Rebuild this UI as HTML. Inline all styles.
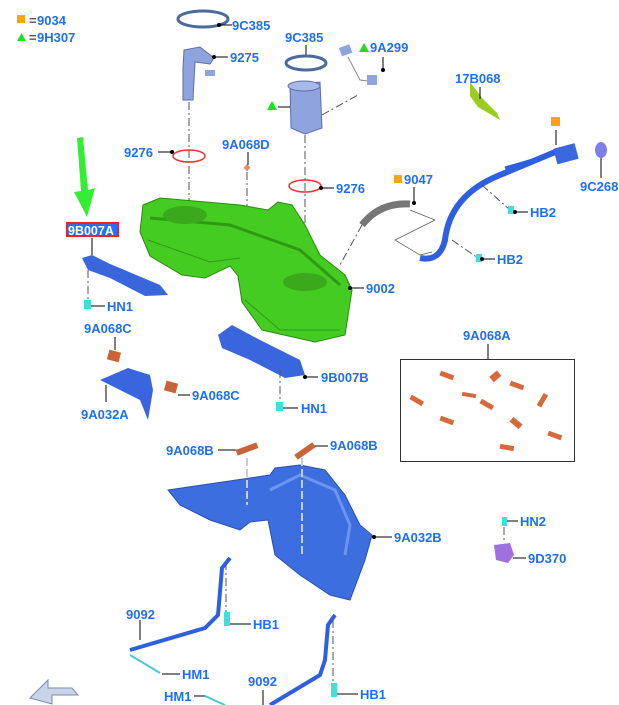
<!DOCTYPE html>
<html><head><meta charset="utf-8"><style>
html,body{margin:0;padding:0;background:#fff;width:619px;height:705px;overflow:hidden}
svg{display:block}
text{font-family:"Liberation Sans",sans-serif;font-weight:bold;font-size:13px;fill:#1f6ff0}
.l{stroke:#000;stroke-width:1;fill:none}
.d{stroke:#555;stroke-width:1;fill:none;stroke-dasharray:8 3 2 3}
</style></head><body>
<svg width="619" height="705" viewBox="0 0 619 705">
<!-- legend -->
<rect x="17" y="15" width="8" height="8" fill="#f6a800"/><text x="29" y="25" style="fill:#555">=</text><text x="37" y="25">9034</text>
<path d="M17 41 L21.5 33 L26 41Z" fill="#22dd22"/><text x="29" y="42" style="fill:#555">=</text><text x="37" y="42">9H307</text>

<!-- green arrow -->
<path d="M77 138 L83 137 L88 190 L95 188 L87 217 L74 192 L81 191Z" fill="#33ee33"/>
<rect x="66" y="222" width="53" height="15" fill="#e22"/>
<rect x="68" y="224" width="49" height="11" fill="#2a6ff0"/>
<text x="68" y="235" style="fill:#fff;font-size:12.5px">9B007A</text>

<!-- rings and pumps -->
<ellipse cx="203" cy="19" rx="25" ry="8" fill="none" stroke="#4a6a9a" stroke-width="3"/>
<line class="l" x1="219" y1="25" x2="232" y2="25"/><circle cx="219" cy="25" r="2"/>
<text x="232" y="30">9C385</text>
<path d="M184 50 L200 47 L214 58 L210 64 L195 62 L193 100 L183 100 L183 68Z" fill="#8fa3dd" stroke="#5a6fae"/>
<rect x="205" y="70" width="10" height="6" fill="#8fa3dd"/>
<line class="l" x1="214" y1="57" x2="228" y2="57"/><circle cx="214" cy="57" r="2"/>
<text x="230" y="62">9275</text>
<line class="d" x1="189" y1="102" x2="189" y2="210"/>
<ellipse cx="189" cy="156" rx="16" ry="6" fill="none" stroke="#e33" stroke-width="1.5"/>
<line class="l" x1="158" y1="152" x2="172" y2="152"/><circle cx="172" cy="152" r="2"/>
<text x="124" y="157">9276</text>

<text x="285" y="42">9C385</text>
<line class="l" x1="306" y1="45" x2="306" y2="56"/>
<ellipse cx="306" cy="63" rx="20" ry="7" fill="none" stroke="#4a6a9a" stroke-width="3"/>
<path d="M290 85 L320 82 L322 128 L305 134 L291 128Z" fill="#8fa3dd" stroke="#5a6fae"/>
<ellipse cx="304" cy="86" rx="16" ry="5" fill="#a8b8e8" stroke="#5a6fae"/>
<path d="M267 110 L272 101 L277 110Z" fill="#22dd22"/>
<line class="l" x1="278" y1="107" x2="290" y2="107"/>
<line class="d" x1="322" y1="115" x2="358" y2="95"/>
<rect x="340" y="46" width="11" height="9" fill="#8fa3dd" transform="rotate(-20 345 50)"/>
<path d="M348 57 L360 80 L375 82" stroke="#888" fill="none"/>
<rect x="367" y="75" width="10" height="10" fill="#8fa3dd"/>
<line class="l" x1="383" y1="57" x2="383" y2="72"/><circle cx="383" cy="70" r="2"/>
<path d="M359 52 L364 43 L369 52Z" fill="#22dd22"/><text x="370" y="52">9A299</text>
<line class="d" x1="305" y1="135" x2="305" y2="280"/>
<ellipse cx="305" cy="186" rx="16" ry="6" fill="none" stroke="#e33" stroke-width="1.5"/>
<line class="l" x1="321" y1="188" x2="334" y2="188"/><circle cx="321" cy="188" r="2"/>
<text x="336" y="193">9276</text>

<text x="222" y="149">9A068D</text>
<line class="l" x1="248" y1="152" x2="248" y2="165"/>
<rect x="245" y="165" width="5" height="5" fill="#e86" transform="rotate(45 247 167)"/>
<line class="d" x1="247" y1="172" x2="247" y2="212"/>

<!-- tank -->
<path d="M143 205 L160 198 L240 205 L268 210 L278 202 L292 205 L305 225 L320 255 L345 275 L352 290 L345 335 L315 342 L262 330 L242 302 L238 276 L230 266 L205 278 L182 275 L150 256 L140 232Z" fill="#44cc22" stroke="#2a8a10"/>
<path d="M150 218 L230 225 L300 250 L340 285" stroke="#2f9a15" fill="none" stroke-width="3"/>
<ellipse cx="185" cy="215" rx="22" ry="9" fill="#3aaa1c"/>
<ellipse cx="305" cy="282" rx="22" ry="9" fill="#3aaa1c"/>
<path d="M148 240 L210 262 L240 258" stroke="#2f9a15" fill="none"/>
<path d="M245 300 L280 330 L340 330" stroke="#2f9a15" fill="none"/>
<line class="l" x1="350" y1="288" x2="364" y2="288"/><circle cx="350" cy="288" r="2"/>
<text x="366" y="293">9002</text>

<!-- 9047 hose -->
<path d="M362 225 Q380 202 410 204" stroke="#777" stroke-width="7" fill="none"/>
<line class="d" x1="362" y1="225" x2="340" y2="265"/>
<rect x="394" y="175" width="8" height="8" fill="#f6a800"/><text x="404" y="184">9047</text>
<line class="l" x1="414" y1="187" x2="414" y2="203"/><circle cx="414" cy="203" r="2"/>
<path d="M410 210 L435 220 L395 240 L420 255 L432 252" stroke="#555" fill="none" stroke-width="0.7"/>

<!-- filler -->
<path d="M420 258 Q440 262 445 240 Q450 195 500 175 L560 150" stroke="#2d5fe0" stroke-width="6" fill="none"/>
<path d="M505 168 L560 152" stroke="#2d5fe0" stroke-width="3" fill="none"/>
<rect x="555" y="146" width="22" height="16" fill="#3a68e0" transform="rotate(-15 565 154)"/>
<ellipse cx="601" cy="150" rx="6" ry="8" fill="#7f7fe8"/>
<line class="l" x1="601" y1="158" x2="601" y2="178"/>
<text x="580" y="191">9C268</text>
<rect x="551" y="117" width="9" height="9" fill="#f6a800"/>
<line class="l" x1="556" y1="130" x2="556" y2="145"/>
<path d="M470 82 L483 99 L497 113 L500 120 L478 107 L470 96Z" fill="#9acc22"/>
<line class="l" x1="480" y1="87" x2="480" y2="99"/>
<text x="455" y="83">17B068</text>
<line class="d" x1="482" y1="185" x2="510" y2="210"/>
<rect x="508" y="206" width="6" height="8" fill="#4dd"/>
<line class="l" x1="514" y1="212" x2="528" y2="212"/><circle cx="515" cy="212" r="2"/>
<text x="530" y="217">HB2</text>
<line class="d" x1="452" y1="240" x2="478" y2="258"/>
<rect x="476" y="254" width="6" height="8" fill="#4dd"/>
<line class="l" x1="482" y1="259" x2="495" y2="259"/><circle cx="482" cy="259" r="2"/>
<text x="497" y="264">HB2</text>

<!-- 9B007A bracket -->
<line class="l" x1="92" y1="238" x2="92" y2="255"/>
<path d="M82 258 L92 255 L110 264 L160 285 L168 295 L145 296 L110 278 L88 270Z" fill="#3a66dd"/>
<line class="d" x1="88" y1="270" x2="88" y2="300"/>
<rect x="84" y="300" width="7" height="9" fill="#4dd"/>
<line class="l" x1="91" y1="306" x2="105" y2="306"/>
<text x="107" y="311">HN1</text>
<text x="84" y="333">9A068C</text>
<line class="l" x1="115" y1="337" x2="115" y2="350"/>
<rect x="108" y="351" width="12" height="10" fill="#c8633a" transform="rotate(15 114 356)"/>
<path d="M100 380 L128 368 L150 375 L153 390 L148 420 L140 400 L110 385Z" fill="#3a66dd"/>
<line class="l" x1="106" y1="385" x2="106" y2="402"/>
<text x="81" y="419">9A032A</text>
<rect x="165" y="382" width="12" height="10" fill="#c8633a" transform="rotate(15 171 387)"/>
<line class="l" x1="178" y1="395" x2="190" y2="395"/>
<text x="192" y="400">9A068C</text>

<!-- 9B007B -->
<path d="M218 335 L232 325 L260 340 L300 360 L305 375 L285 378 L250 360 L222 348Z" fill="#3a66dd"/>
<line class="l" x1="305" y1="377" x2="318" y2="377"/><circle cx="305" cy="377" r="2"/>
<text x="321" y="382">9B007B</text>
<line class="d" x1="280" y1="370" x2="280" y2="400"/>
<rect x="276" y="402" width="7" height="9" fill="#4dd"/>
<line class="l" x1="283" y1="408" x2="298" y2="408"/>
<text x="301" y="413">HN1</text>

<!-- 9A068A box -->
<rect x="400.5" y="359.5" width="174" height="102" fill="none" stroke="#333"/>
<text x="463" y="340">9A068A</text>
<line class="l" x1="488" y1="344" x2="488" y2="359"/>
<g fill="#d8673a">
<rect x="440" y="373" width="14" height="5" transform="rotate(20 447 375)"/>
<rect x="490" y="373" width="10" height="7" transform="rotate(-40 495 376)"/>
<rect x="510" y="383" width="14" height="5" transform="rotate(20 517 385)"/>
<rect x="410" y="398" width="14" height="5" transform="rotate(30 417 400)"/>
<rect x="462" y="393" width="14" height="4" transform="rotate(10 469 395)"/>
<rect x="480" y="402" width="14" height="5" transform="rotate(30 487 404)"/>
<rect x="535" y="398" width="14" height="5" transform="rotate(-60 542 400)"/>
<rect x="440" y="418" width="14" height="5" transform="rotate(20 447 420)"/>
<rect x="510" y="420" width="12" height="6" transform="rotate(40 516 423)"/>
<rect x="548" y="433" width="14" height="5" transform="rotate(20 555 435)"/>
<rect x="500" y="445" width="14" height="5" transform="rotate(10 507 447)"/>
</g>

<!-- shield -->
<text x="166" y="455">9A068B</text>
<line class="l" x1="218" y1="450" x2="237" y2="450"/>
<rect x="236" y="446" width="22" height="6" fill="#c8633a" transform="rotate(-20 247 449)"/>
<text x="330" y="450">9A068B</text>
<line class="l" x1="310" y1="446" x2="328" y2="446"/>
<rect x="294" y="448" width="22" height="6" fill="#c8633a" transform="rotate(-35 305 451)"/>
<path d="M168 490 L270 475 L275 468 L300 465 L325 470 L345 495 L360 525 L372 535 L365 560 L350 600 L330 595 L300 575 L275 555 L268 520 L250 522 L240 530 L210 520 L180 505Z" fill="#3d6ee0" stroke="#2a4fb0"/>
<path d="M270 490 L300 475 L335 490 L350 525 L345 555" stroke="#6a96f0" fill="none" stroke-width="3"/>
<line x1="247" y1="458" x2="247" y2="505" stroke="#ccc" stroke-width="2" stroke-dasharray="8 3"/>
<line x1="302" y1="458" x2="302" y2="555" stroke="#ccc" stroke-width="2" stroke-dasharray="8 3"/>
<line class="l" x1="374" y1="537" x2="392" y2="537"/><circle cx="374" cy="537" r="2"/>
<text x="394" y="542">9A032B</text>

<!-- HN2 9D370 -->
<rect x="502" y="517" width="5" height="9" fill="#4dd"/>
<line class="l" x1="507" y1="521" x2="518" y2="521"/>
<text x="520" y="526">HN2</text>
<line class="d" x1="504" y1="527" x2="504" y2="543"/>
<path d="M494 545 L510 543 L514 555 L508 563 L496 560Z" fill="#a070e0"/>
<line class="l" x1="513" y1="558" x2="526" y2="558"/>
<text x="528" y="563">9D370</text>

<!-- straps -->
<path d="M230 558 L222 568 L218 615 L205 628 L130 650" stroke="#2d5fe0" stroke-width="4" fill="none"/>
<line class="d" x1="226" y1="562" x2="226" y2="612"/>
<rect x="224" y="612" width="6" height="14" fill="#4dd"/>
<line class="l" x1="230" y1="624" x2="251" y2="624"/>
<text x="253" y="629">HB1</text>
<line class="l" x1="140" y1="620" x2="140" y2="640"/>
<text x="126" y="619">9092</text>
<line x1="130" y1="655" x2="160" y2="673" stroke="#4cc" stroke-width="2"/>
<line class="l" x1="162" y1="674" x2="180" y2="674"/>
<text x="182" y="679">HM1</text>
<path d="M335 615 L328 625 L325 660 L320 675 L270 705" stroke="#2d5fe0" stroke-width="4" fill="none"/>
<line class="d" x1="333" y1="620" x2="333" y2="683"/>
<rect x="331" y="683" width="6" height="14" fill="#4dd"/>
<line class="l" x1="337" y1="694" x2="358" y2="694"/>
<text x="360" y="699">HB1</text>
<text x="248" y="686">9092</text>
<line class="l" x1="263" y1="690" x2="263" y2="705"/>
<text x="164" y="701">HM1</text>
<line class="l" x1="194" y1="696" x2="205" y2="696"/>
<line x1="205" y1="696" x2="225" y2="705" stroke="#4cc" stroke-width="2"/>

<!-- nav arrow -->
<path d="M30 698 L48 680 L48 688 L72 688 L78 695 L52 695 L52 704Z" fill="#c8d4ea" stroke="#7a8bb0"/>
</svg>
</body></html>
